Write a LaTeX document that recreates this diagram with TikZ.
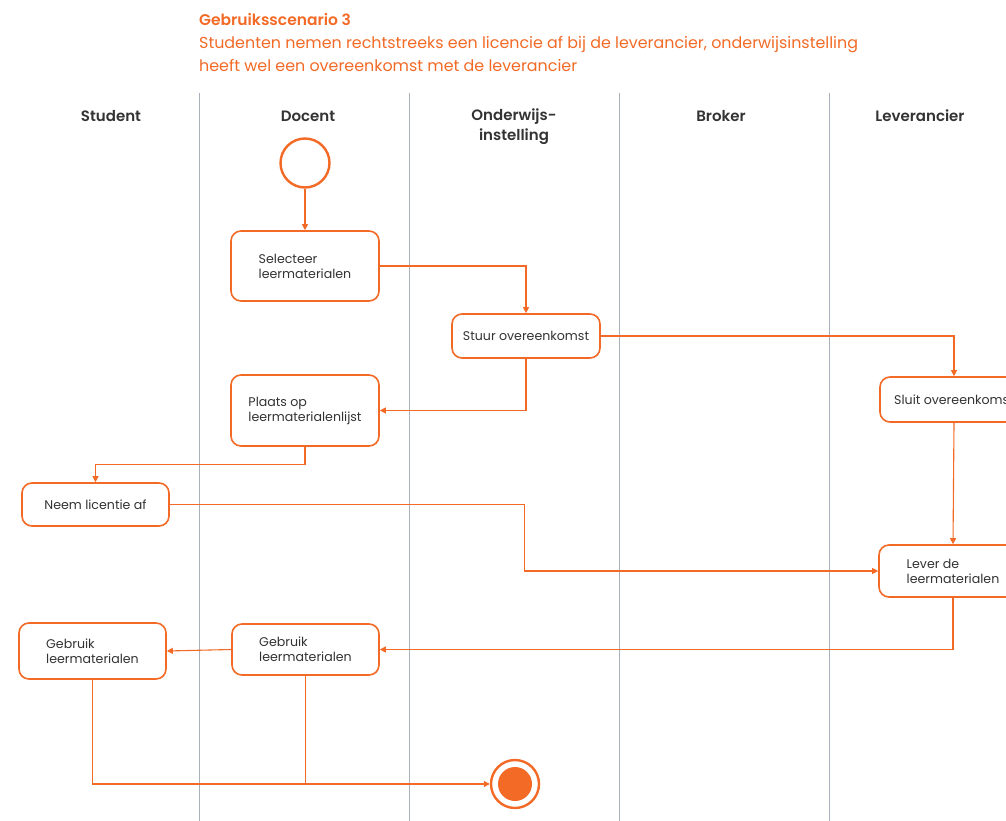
\documentclass[tikz,border=0pt]{standalone}
\usepackage{fontspec}
\setmainfont{Poppins}[BoldFont={Poppins SemiBold}]
\usetikzlibrary{arrows.meta}
\definecolor{orng}{HTML}{F26A26}
\definecolor{lane}{HTML}{A8B2BC}
\definecolor{txt}{HTML}{333333}
\tikzset{
  act/.style={draw=orng, line width=1.6pt, rounded corners=10pt, fill=white,
    align=left, inner sep=0pt, text=txt, font=\fontsize{12.6}{15}\selectfont},
  conn/.style={draw=orng, line width=1.1pt, -{Triangle[length=6pt,width=6pt]}},
  plain/.style={draw=orng, line width=1.1pt},
  lanel/.style={draw=lane, line width=0.9pt},
  hdr/.style={text=txt, font=\bfseries\fontsize{15}{20}\selectfont, align=center},
}
\begin{document}
\begin{tikzpicture}[x=1pt,y=-1pt]
\useasboundingbox (0,0) rectangle (1006,821);
% title
\node[anchor=base west, text=orng, font=\bfseries\fontsize{15.5}{18}\selectfont, inner sep=0pt] (t1) at (199,26) {Gebruiksscenario 3};
\node[anchor=base west, text=orng, font=\fontsize{15.9}{18}\selectfont, inner sep=0pt] (t2) at (199,49) {Studenten nemen rechtstreeks een licencie af bij de leverancier, onderwijsinstelling};
\node[anchor=base west, text=orng, font=\fontsize{15.9}{18}\selectfont, inner sep=0pt] (t3) at (199,72) {heeft wel een overeenkomst met de leverancier};
% lanes
\foreach \x/\n in {199/a,409/b,619/c,829/d}{
  \coordinate (l\n1) at (\x,93);
  \coordinate (l\n2) at (\x,821);
  \draw[lanel] (l\n1) -- (l\n2);
}
% headers
\node[hdr] (h1) at (111,116) {Student};
\node[hdr] (h2) at (308,116) {Docent};
\node[hdr] (h3) at (514,127) {Onderwijs-\\instelling};
\node[hdr] (h4) at (721,116) {Broker};
\node[hdr] (h5) at (920,116) {Leverancier};
% start / end
\node[circle, draw=orng, line width=2.4pt, fill=white, minimum size=49pt, inner sep=0pt] (start) at (305,163) {};
\node[circle, draw=orng, line width=2.4pt, fill=white, minimum size=48pt, inner sep=0pt] (endc) at (515,784) {};
\node[circle, fill=orng, minimum size=34pt, inner sep=0pt] (endi) at (515,784) {};
% activities
\node[act, minimum width=148pt, minimum height=70pt] (sel) at (305,266) {Selecteer\\leermaterialen};
\node[act, minimum width=148pt, minimum height=44pt] (stuur) at (526,336) {Stuur overeenkomst};
\node[act, minimum width=148pt, minimum height=71pt] (plaats) at (305,410.5) {Plaats op\\leermaterialenlijst};
\node[act, minimum width=148pt, minimum height=45pt] (sluit) at (954,399.5) {Sluit overeenkomst};
\node[act, minimum width=147pt, minimum height=43pt] (neem) at (95.5,504.5) {Neem licentie af};
\node[act, minimum width=148pt, minimum height=52pt] (lever) at (953,571) {Lever de\\leermaterialen};
\node[act, minimum width=147pt, minimum height=51pt] (gd) at (305.5,649.5) {Gebruik\\leermaterialen};
\node[act, minimum width=147pt, minimum height=56pt] (gs) at (92.5,651) {Gebruik\\leermaterialen};
% connectors
\draw[conn] (start.south) -- (sel.north);
\draw[conn] (sel.east) -| (stuur.north);
\draw[conn] (stuur.east) -| (sluit.north);
\draw[conn] (stuur.south) |- (plaats.east);
\draw[conn] (plaats.south) -- ++(0,18) -| (neem.north);
\draw[conn] (neem.east) -- ++(355,0) |- (lever.west);
\draw[conn] (sluit.south) -- (lever.north);
\draw[conn] (lever.south) |- (gd.east);
\draw[conn] (gd.west) -- (gs.east);
\draw[conn] (gs.south) |- (endc.west);
\draw[plain] (gd.south) -- (gd.south |- endc.west);
\end{tikzpicture}
\end{document}
